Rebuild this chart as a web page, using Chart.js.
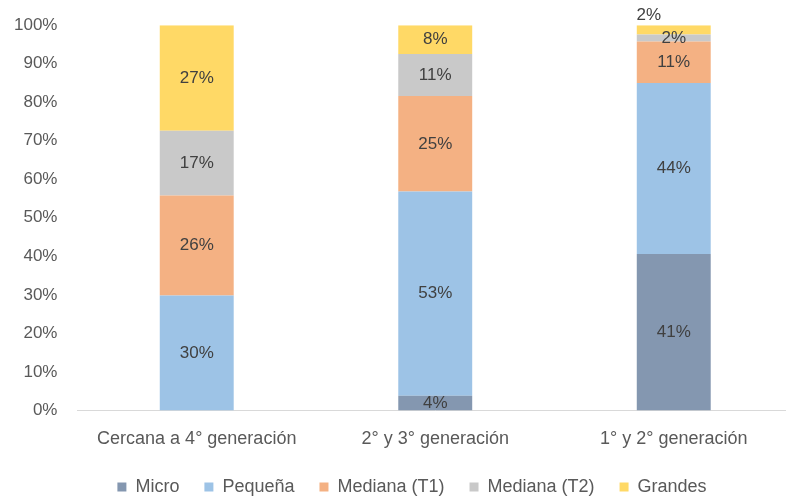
<!DOCTYPE html>
<html>
<head>
<meta charset="utf-8">
<script src="https://cdn.jsdelivr.net/npm/chart.js@4.4.1/dist/chart.umd.min.js"></script>
<style>
  html, body { margin: 0; padding: 0; background: #fff; overflow: hidden; }
  #wrap { position: relative; width: 800px; height: 501px; margin-top: -5px; }
</style>
</head>
<body>
<div id="wrap"><canvas id="chart"></canvas></div>
<script>
// categories and series (share of total, %)
var categories = ["Cercana a 4° generación", "2° y 3° generación", "1° y 2° generación"];
var micro     = [0,    3.8,  40.6];
var pequena   = [29.8, 53.0, 44.4];
var medianaT1 = [26.0, 24.8, 10.8];
var medianaT2 = [16.8, 10.9, 1.8];
var grandes   = [27.4, 7.5,  2.4];
var yTicks = [0, 10, 20, 30, 40, 50, 60, 70, 80, 90, 100];

var fontFam = "'Liberation Sans', Arial, sans-serif";

// draws the % labels inside each segment
var segLabels = {
  id: "segLabels",
  afterLayout: function(chart) {
    // legend sits a bit right of centre in the original
    chart.legend.left += 26;
    chart.legend.right += 26;
  },
  afterDatasetsDraw: function(chart) {
    var ctx = chart.ctx;
    ctx.save();
    ctx.font = "17px " + fontFam;
    ctx.fillStyle = "#404040";
    ctx.textAlign = "center";
    ctx.textBaseline = "middle";
    chart.data.datasets.forEach(function(ds, i) {
      chart.getDatasetMeta(i).data.forEach(function(bar, j) {
        var v = ds.data[j];
        if (!v) return;
        var p = bar.getProps(["x", "y", "base", "width"], true);
        var tx = p.x, ty = (p.y + p.base) / 2;
        // tiny top segment: label moved above the bar, like the original
        if (i == 4 && v < 5) { tx = p.x - p.width / 2 + 12; ty = p.y - 10; }
        ctx.fillText(Math.round(v) + "%", tx, ty);
      });
    });
    ctx.restore();
  }
};

var ctx = document.getElementById("chart").getContext("2d");
var myChart = new Chart(ctx, {
  type: "bar",
  data: {
    labels: categories,
    datasets: [
      { label: "Micro", data: micro, backgroundColor: "#8497B0" },
      { label: "Pequeña", data: pequena, backgroundColor: "#9DC3E6" },
      { label: "Mediana (T1)", data: medianaT1, backgroundColor: "#F4B183" },
      { label: "Mediana (T2)", data: medianaT2, backgroundColor: "#C9C9C9" },
      { label: "Grandes", data: grandes, backgroundColor: "#FFD966" }
    ]
  },
  options: {
    responsive: true,
    maintainAspectRatio: false,
    animation: false,
    barPercentage: 0.62,
    categoryPercentage: 0.5,
    layout: { padding: { left: -6, right: 7, top: 0, bottom: -10 } },
    plugins: {
      legend: {
        position: "bottom",
        labels: {
          boxWidth: 9,
          boxHeight: 9,
          padding: 10,
          color: "#595959",
          font: { family: fontFam, size: 18 },
          generateLabels: function(chart) {
            var items = Chart.defaults.plugins.legend.labels.generateLabels(chart);
            items.forEach(function(it) { it.text = it.text + "   "; });
            return items;
          }
        }
      },
      tooltip: { enabled: false }
    },
    scales: {
      x: {
        stacked: true,
        grid: { display: false, drawTicks: false },
        border: { color: "#D9D9D9", width: 1 },
        ticks: { color: "#595959", padding: 18, font: { family: fontFam, size: 18 } }
      },
      y: {
        stacked: true,
        min: 0,
        max: 100,
        afterBuildTicks: function(axis) {
          axis.ticks = yTicks.map(function(v) { return { value: v }; });
        },
        grid: { display: false, drawTicks: false },
        border: { display: false },
        ticks: {
          color: "#595959",
          padding: 20,
          font: { family: fontFam, size: 17 },
          callback: function(v) { return v + "%"; }
        }
      }
    }
  },
  plugins: [segLabels]
});
</script>
</body>
</html>
